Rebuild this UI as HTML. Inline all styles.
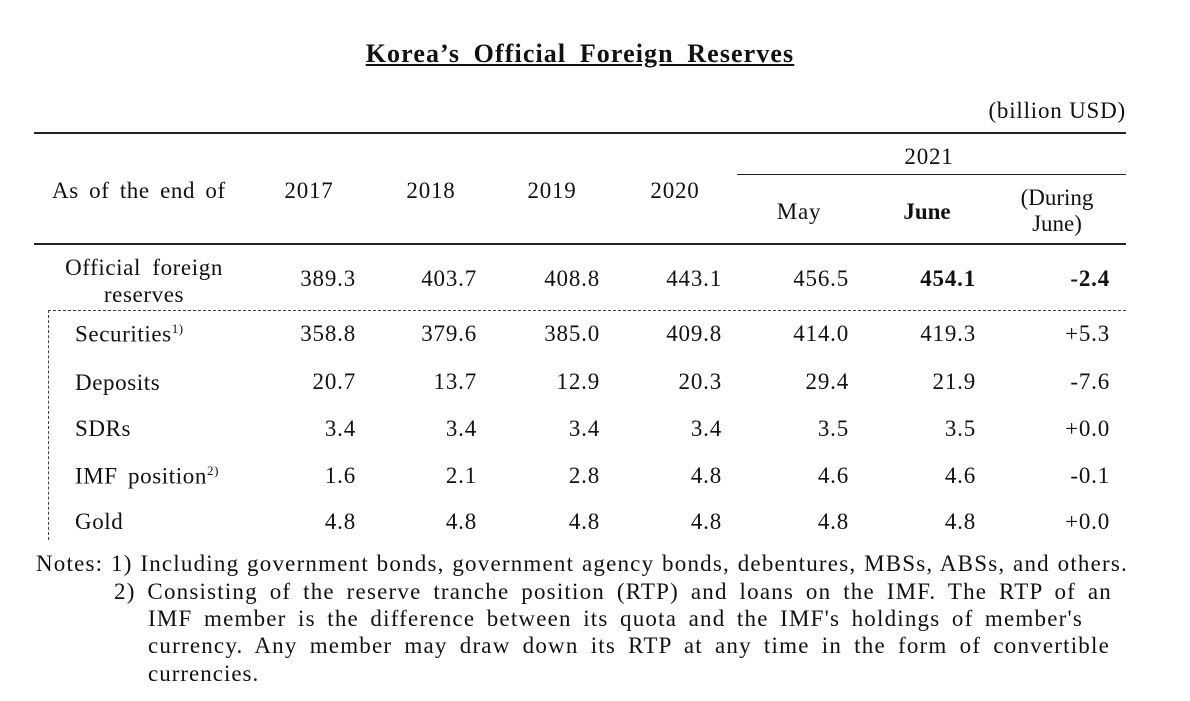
<!DOCTYPE html>
<html><head><style>
body{margin:0;width:1190px;height:701px;background:#fff;position:relative;font-family:"Liberation Serif",serif;color:#111;overflow:hidden}
.t{position:absolute;white-space:nowrap;font-size:23px;line-height:1}
.c{transform:translateX(-50%);text-align:center}
.r{transform:translateX(-100%)}
.l{position:absolute;background:#222}
.n{position:absolute;font-size:23px;line-height:1;white-space:nowrap;text-align:justify;text-align-last:justify;letter-spacing:1.2px}
</style></head><body>
<div class="t c" style="left:580px;top:41px;font-size:26px;font-weight:bold;text-decoration:underline;word-spacing:6px;letter-spacing:1.1px">Korea’s Official Foreign Reserves</div>
<div class="t r" style="left:1126px;top:99px;letter-spacing:0.8px">(billion USD)</div>
<div class="l" style="left:34px;top:132px;width:1092px;height:1.5px"></div>
<div class="l" style="left:737px;top:174px;width:389px;height:1px"></div>
<div class="l" style="left:34px;top:243px;width:1092px;height:1.5px"></div>
<div style="position:absolute;left:48px;top:310px;width:1078px;border-top:1px dashed #444"></div>
<div style="position:absolute;left:48px;top:310px;height:230px;border-left:1px dashed #444"></div>
<div class="t" style="left:52px;top:179px;word-spacing:4px;letter-spacing:0.6px">As of the end of</div>
<div class="t c" style="left:309px;top:179px;letter-spacing:0.8px">2017</div>
<div class="t c" style="left:431px;top:179px;letter-spacing:0.8px">2018</div>
<div class="t c" style="left:552px;top:179px;letter-spacing:0.8px">2019</div>
<div class="t c" style="left:675px;top:179px;letter-spacing:0.8px">2020</div>
<div class="t c" style="left:929px;top:145px;letter-spacing:0.8px">2021</div>
<div class="t c" style="left:799px;top:200px;letter-spacing:0.8px">May</div>
<div class="t c" style="left:927px;top:200px;font-weight:bold">June</div>
<div class="t c" style="left:1057px;top:185px;line-height:26px">(During<br>June)</div>
<div class="t c" style="left:144px;top:254px;line-height:27px;word-spacing:5px;letter-spacing:0.6px">Official foreign<br>reserves</div>
<div class="t" style="left:75px;top:322px;letter-spacing:0.6px">Securities<sup style="font-size:13px">1)</sup></div>
<div class="t" style="left:75px;top:371px;letter-spacing:0.6px">Deposits</div>
<div class="t" style="left:75px;top:417px;letter-spacing:0.6px">SDRs</div>
<div class="t" style="left:75px;top:464px;letter-spacing:0.6px;word-spacing:4px">IMF position<sup style="font-size:13px">2)</sup></div>
<div class="t" style="left:75px;top:510px;letter-spacing:0.6px">Gold</div>
<div id="nums"></div>
<script>
var rows=[[267,["389.3","403.7","408.8","443.1","456.5","454.1","-2.4"]],[322,["358.8","379.6","385.0","409.8","414.0","419.3","+5.3"]],[370,["20.7","13.7","12.9","20.3","29.4","21.9","-7.6"]],[417,["3.4","3.4","3.4","3.4","3.5","3.5","+0.0"]],[464,["1.6","2.1","2.8","4.8","4.6","4.6","-0.1"]],[510,["4.8","4.8","4.8","4.8","4.8","4.8","+0.0"]]];
var xs=[356,477,600,722,849,976,1110],h="";
rows.forEach(function(r,i){r[1].forEach(function(v,j){var b=(i==0&&j>=5)?"font-weight:bold;":"";h+='<div class="t r" style="letter-spacing:0.8px;'+b+'left:'+xs[j]+'px;top:'+r[0]+'px">'+v+'</div>';});});
document.getElementById("nums").innerHTML=h;
</script>
<div class="n" style="left:36px;top:552px;width:1092px">Notes: 1) Including government bonds, government agency bonds, debentures, MBSs, ABSs, and others.</div>
<div class="n" style="left:114px;top:580px;width:998px">2) Consisting of the reserve tranche position (RTP) and loans on the IMF. The RTP of an</div>
<div class="n" style="left:148px;top:607px;width:935px">IMF member is the difference between its quota and the IMF's holdings of member's</div>
<div class="n" style="left:148px;top:634px;width:962px">currency. Any member may draw down its RTP at any time in the form of convertible</div>
<div class="t" style="left:148px;top:662px;letter-spacing:1px">currencies.</div>
</body></html>
